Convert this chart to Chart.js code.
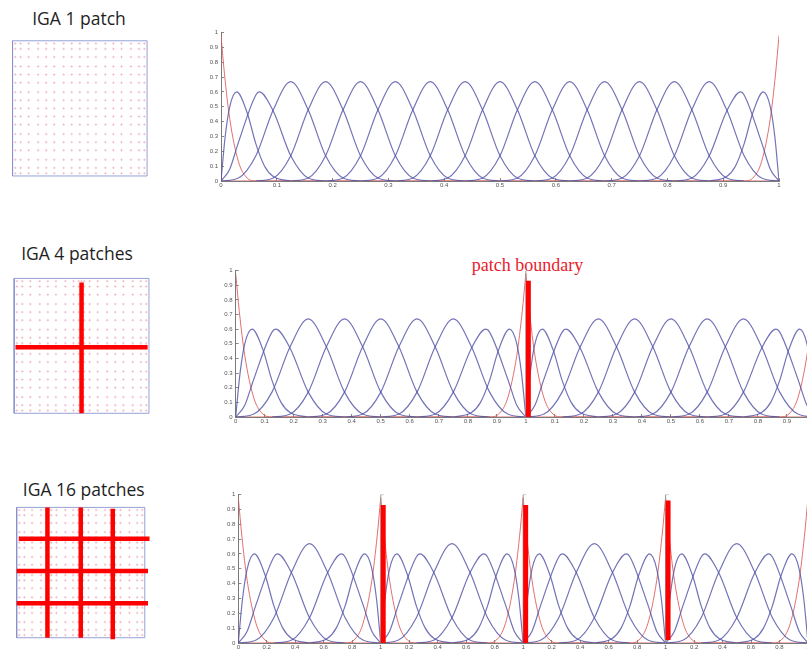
<!DOCTYPE html>
<html>
<head>
<meta charset="utf-8">
<script src="https://cdn.jsdelivr.net/npm/chart.js@4.4.1/dist/chart.umd.min.js"></script>
<style>
  html, body { margin: 0; padding: 0; width: 807px; height: 649px; overflow: hidden; background: #fff; }
  canvas, .txt { position: absolute; }
  .title { font-family: "Open Sans", sans-serif; font-size: 17.5px; line-height: 1; color: #1e1e1e; white-space: nowrap; transform: translateX(-50%); }
  .note { font-family: "Liberation Serif", serif; font-size: 18px; line-height: 1; color: #e8212b; white-space: nowrap; }
</style>
</head>
<body>
<script>
// ---------- text ----------
const meshTitles = ['IGA 1 patch', 'IGA 4 patches', 'IGA 16 patches'];
const boundaryNote = 'patch boundary';

// ---------- basis-function shapes (x in knot spans, y as plotted) ----------
const endLeft     = [[0, 0.98], [0.1, 0.72], [0.25, 0.42], [0.5, 0.13], [0.75, 0.02], [1, 0]];
const endRight    = [[0, 0], [0.25, 0.02], [0.5, 0.13], [0.75, 0.42], [0.9, 0.72], [1, 0.98]];
const nearLeft    = [[0, 0], [0.12, 0.3], [0.25, 0.5], [0.45, 0.6], [0.75, 0.46], [1, 0.25], [1.25, 0.1], [1.5, 0.03], [2, 0]];
const nearRight   = [[0, 0], [0.5, 0.03], [0.75, 0.1], [1, 0.25], [1.25, 0.46], [1.55, 0.6], [1.75, 0.5], [1.88, 0.3], [2, 0]];
const secondLeft  = [[0, 0], [0.25, 0.08], [0.5, 0.26], [1, 0.58], [1.1, 0.6], [1.5, 0.47], [2, 0.17], [2.5, 0.02], [3, 0]];
const secondRight = [[0, 0], [0.5, 0.02], [1, 0.17], [1.5, 0.47], [1.9, 0.6], [2, 0.58], [2.5, 0.26], [2.75, 0.08], [3, 0]];
const interior    = [[0, 0], [0.5, 0.02], [1, 0.17], [1.5, 0.48], [2, 0.67], [2.5, 0.48], [3, 0.17], [3.5, 0.02], [4, 0]];

// ---------- one patch, 16 knot spans ----------
const knotSpan1 = 0.0625;
const spansPerPatch1 = 16;
const patchStarts1 = [0];
const basisLayout1 = [
  ['endLeft', 0], ['nearLeft', 0], ['secondLeft', 0],
  ['interior', 0], ['interior', 1], ['interior', 2], ['interior', 3], ['interior', 4],
  ['interior', 5], ['interior', 6], ['interior', 7], ['interior', 8], ['interior', 9],
  ['interior', 10], ['interior', 11], ['interior', 12],
  ['secondRight', 13], ['nearRight', 14], ['endRight', 15]
];
const xTicks1 = [0, 0.1, 0.2, 0.3, 0.4, 0.5, 0.6, 0.7, 0.8, 0.9, 1];
const xLabels1 = ['0', '0.1', '0.2', '0.3', '0.4', '0.5', '0.6', '0.7', '0.8', '0.9', '1'];
const boundaries1 = [];
const barTops1 = [];
const barBottoms1 = [];

// ---------- four patches (two along the plotted line), 8 spans each ----------
const knotSpan2 = 0.125;
const spansPerPatch2 = 8;
const patchStarts2 = [0, 1];
const basisLayout2 = [
  ['endLeft', 0], ['nearLeft', 0], ['secondLeft', 0],
  ['interior', 0], ['interior', 1], ['interior', 2], ['interior', 3], ['interior', 4],
  ['secondRight', 5], ['nearRight', 6], ['endRight', 7]
];
const xTicks2 = [0, 0.1, 0.2, 0.3, 0.4, 0.5, 0.6, 0.7, 0.8, 0.9, 1,
                 1.1, 1.2, 1.3, 1.4, 1.5, 1.6, 1.7, 1.8, 1.9, 2];
const xLabels2 = ['0', '0.1', '0.2', '0.3', '0.4', '0.5', '0.6', '0.7', '0.8', '0.9', '1',
                  '0.1', '0.2', '0.3', '0.4', '0.5', '0.6', '0.7', '0.8', '0.9', '1'];
const boundaries2 = [1];
const barTops2 = [0.93];
const barBottoms2 = [0];

// ---------- sixteen patches (four along the plotted line), 4 spans each ----------
const knotSpan3 = 0.25;
const spansPerPatch3 = 4;
const patchStarts3 = [0, 1, 2, 3];
const basisLayout3 = [
  ['endLeft', 0], ['nearLeft', 0], ['secondLeft', 0], ['interior', 0],
  ['secondRight', 1], ['nearRight', 2], ['endRight', 3]
];
const xTicks3 = [0, 0.2, 0.4, 0.6, 0.8, 1, 1.2, 1.4, 1.6, 1.8, 2,
                 2.2, 2.4, 2.6, 2.8, 3, 3.2, 3.4, 3.6, 3.8, 4];
const xLabels3 = ['0', '0.2', '0.4', '0.6', '0.8', '1', '0.2', '0.4', '0.6', '0.8', '1',
                  '0.2', '0.4', '0.6', '0.8', '1', '0.2', '0.4', '0.6', '0.8', '1'];
const boundaries3 = [1, 2, 3];
const barTops3 = [0.93, 0.93, 0.96];
const barBottoms3 = [0, 0, 0.02];

const yTicks = [0, 0.1, 0.2, 0.3, 0.4, 0.5, 0.6, 0.7, 0.8, 0.9, 1];
const yLabels = ['0', '0.1', '0.2', '0.3', '0.4', '0.5', '0.6', '0.7', '0.8', '0.9', '1'];

// ---------- meshes: control-point lines and patch cuts (unit square) ----------
const meshLines1 = [0.02, 0.06, 0.12, 0.19, 0.25, 0.31, 0.38, 0.44, 0.5, 0.56, 0.62, 0.69, 0.75, 0.81, 0.88, 0.94, 0.98];
const meshLines2 = [0.02, 0.06, 0.12, 0.19, 0.25, 0.31, 0.38, 0.44, 0.48, 0.5, 0.52, 0.56, 0.62, 0.69, 0.75, 0.81, 0.88, 0.94, 0.98];
const meshLines3 = [0.02, 0.06, 0.12, 0.19, 0.23, 0.25, 0.27, 0.31, 0.38, 0.44, 0.48, 0.5, 0.52, 0.56, 0.62, 0.69, 0.73, 0.75, 0.77, 0.81, 0.88, 0.94, 0.98];
const cuts1 = [];
const cuts2 = [
  [[0.5, 0], [0.5, 0.97]],
  [[0.01, 0.49], [0.99, 0.49]]
];
const cuts3 = [
  [[0.24, 0], [0.24, 1]],
  [[0.5, 0], [0.5, 1]],
  [[0.75, -0.012], [0.75, 0.99]],
  [[0.017, 0.76], [1.037, 0.76]],
  [[0, 0.511], [1.025, 0.511]],
  [[0, 0.265], [1.025, 0.265]]
];

// ---------- styling ----------
const BLUE = 'rgba(80, 80, 165, 0.8)';
const RED = 'rgba(222, 96, 96, 0.9)';
const BAR = '#ff0000';
const shapes = { endLeft, endRight, nearLeft, nearRight, secondLeft, secondRight, interior };

function addText(cls, text, left, top) {
  const d = document.createElement('div');
  d.className = 'txt ' + cls;
  d.textContent = text;
  d.style.left = left + 'px';
  d.style.top = top + 'px';
  document.body.appendChild(d);
}

function addCanvas(left, top, w, h) {
  const c = document.createElement('canvas');
  c.width = w; c.height = h;
  c.style.left = left + 'px'; c.style.top = top + 'px';
  c.style.width = w + 'px'; c.style.height = h + 'px';
  document.body.appendChild(c);
  return c;
}

const quiet = { legend: { display: false }, tooltip: { enabled: false } };

function basisChart(box, row) {
  const AX_W_MIN = 26, PAD_T = 8, PAD_R = 14, AX_H = 14;
  const cLeft = Math.floor(box.left) - AX_W_MIN;
  const axW = box.left - cLeft;
  const cTop = Math.floor(box.top) - PAD_T;
  const padT = box.top - cTop;
  const plotW = box.right - box.left;
  const plotH = box.bottom - box.top;
  const w = Math.ceil(axW + plotW + PAD_R);
  const h = Math.ceil(padT + plotH + AX_H);
  const canvas = addCanvas(cLeft, cTop, w, h);
  const pxPerUnit = plotW / row.xMax;

  const datasets = [];
  row.patchStarts.forEach(start => {
    row.layout.forEach(([name, span]) => {
      const pts = shapes[name].map(([u, v]) => ({ x: start + (span + u) * row.knotSpan, y: v }));
      const isEnd = name === 'endLeft' || name === 'endRight';
      if (name === 'endLeft') pts.push({ x: start + row.spans * row.knotSpan, y: 0 });
      if (name === 'endRight') pts.unshift({ x: start, y: 0 });
      datasets.push({
        data: pts,
        borderColor: isEnd ? RED : BLUE,
        borderWidth: isEnd ? 1 : 1.2,
        cubicInterpolationMode: 'monotone',
        pointRadius: 0,
        order: isEnd ? 3 : 2
      });
    });
  });
  row.boundaries.forEach((b, i) => {
    datasets.push({
      data: [{ x: b, y: 0 }, { x: b, y: 1 }, { x: b + 3 / pxPerUnit, y: 1 }],
      borderColor: '#9a9a9a', borderWidth: 1, pointRadius: 0, order: 1
    });
    const off = 2.5 / pxPerUnit;
    datasets.push({
      data: [{ x: b + off, y: row.barBottoms[i] }, { x: b + off, y: row.barTops[i] }],
      borderColor: BAR, borderWidth: 5, borderCapStyle: 'butt', pointRadius: 0, order: 0
    });
  });

  const tickFont = { family: 'Liberation Sans', size: 6 };
  new Chart(canvas, {
    type: 'line',
    data: { datasets },
    options: {
      responsive: false, animation: false, devicePixelRatio: 1,
      layout: { padding: { top: padT, right: PAD_R, left: 0, bottom: 0 } },
      plugins: quiet,
      scales: {
        x: {
          type: 'linear', min: 0, max: row.xMax,
          afterBuildTicks: s => { s.ticks = row.xTicks.map(v => ({ value: v })); },
          afterFit: s => { s.height = AX_H; },
          ticks: { autoSkip: false, maxRotation: 0, minRotation: 0, padding: 4, font: tickFont, color: '#555',
                   callback: (v, i) => row.xLabels[i] },
          grid: { drawOnChartArea: false, drawTicks: true, tickLength: -3, color: '#888', lineWidth: 1 },
          border: { display: true, color: '#7a7a7a', width: 1 }
        },
        y: {
          type: 'linear', min: 0, max: 1,
          afterBuildTicks: s => { s.ticks = yTicks.map(v => ({ value: v })); },
          afterFit: s => { s.width = axW; },
          ticks: { autoSkip: false, padding: 6, font: tickFont, color: '#555',
                   callback: (v, i) => yLabels[i] },
          grid: { drawOnChartArea: false, drawTicks: true, tickLength: -3, color: '#888', lineWidth: 1 },
          border: { display: true, color: '#7a7a7a', width: 1 }
        }
      }
    }
  });
}

function meshChart(box, lines, cuts) {
  const M = 10, W = 170;
  const cTop = Math.floor(box.top) - M;
  const h = Math.ceil(box.h + 2 * M + 2);
  const canvas = addCanvas(0, cTop, W, h);
  const bottomPx = box.top + box.h - cTop;
  const dots = [];
  lines.forEach(y => lines.forEach(x => dots.push({ x, y })));
  const datasets = [
    { data: dots, showLine: false, pointStyle: 'cross', pointRadius: 1.3, pointBorderWidth: 0.7,
      pointBorderColor: 'rgba(225, 125, 145, 0.55)', order: 3 },
    { data: [{ x: 0, y: 0 }, { x: 1, y: 0 }, { x: 1, y: 1 }, { x: 0, y: 1 }, { x: 0, y: 0 }],
      showLine: true, borderColor: 'rgba(130, 145, 205, 0.85)', borderWidth: 1, pointRadius: 0, order: 2 }
  ];
  cuts.forEach(seg => datasets.push({
    data: seg.map(([x, y]) => ({ x, y })), showLine: true, borderColor: BAR, borderWidth: 4.5,
    borderCapStyle: 'butt', pointRadius: 0, order: 0
  }));
  new Chart(canvas, {
    type: 'line',
    data: { datasets },
    options: {
      responsive: false, animation: false, devicePixelRatio: 1,
      layout: { padding: 0 },
      plugins: quiet,
      scales: {
        x: { type: 'linear', display: false, min: -box.left / box.w, max: (W - box.left) / box.w },
        y: { type: 'linear', display: false, min: -(h - bottomPx) / box.h, max: bottomPx / box.h }
      }
    }
  });
}

// titles
addText('title', meshTitles[0], 79, 9.5);
addText('title', meshTitles[1], 77, 245.2);
addText('title', meshTitles[2], 83.7, 481.2);
addText('note', boundaryNote, 471.7, 255.6);

// meshes
meshChart({ left: 8.3, top: 36.7, w: 142.4, h: 143.3 }, meshLines1, cuts1);
meshChart({ left: 10, top: 274.3, w: 142.7, h: 143 }, meshLines2, cuts2);
meshChart({ left: 12.7, top: 503.3, w: 135.6, h: 138.4 }, meshLines3, cuts3);

// basis-function plots
basisChart({ left: 221, right: 779, top: 31.7, bottom: 180.7 },
  { xMax: 1, knotSpan: knotSpan1, spans: spansPerPatch1, patchStarts: patchStarts1, layout: basisLayout1,
    xTicks: xTicks1, xLabels: xLabels1, boundaries: boundaries1, barTops: barTops1, barBottoms: barBottoms1 });
basisChart({ left: 235.7, right: 815.7, top: 269, bottom: 416.7 },
  { xMax: 2, knotSpan: knotSpan2, spans: spansPerPatch2, patchStarts: patchStarts2, layout: basisLayout2,
    xTicks: xTicks2, xLabels: xLabels2, boundaries: boundaries2, barTops: barTops2, barBottoms: barBottoms2 });
basisChart({ left: 238.3, right: 807.9, top: 493.3, bottom: 642.7 },
  { xMax: 4, knotSpan: knotSpan3, spans: spansPerPatch3, patchStarts: patchStarts3, layout: basisLayout3,
    xTicks: xTicks3, xLabels: xLabels3, boundaries: boundaries3, barTops: barTops3, barBottoms: barBottoms3 });
</script>
</body>
</html>
